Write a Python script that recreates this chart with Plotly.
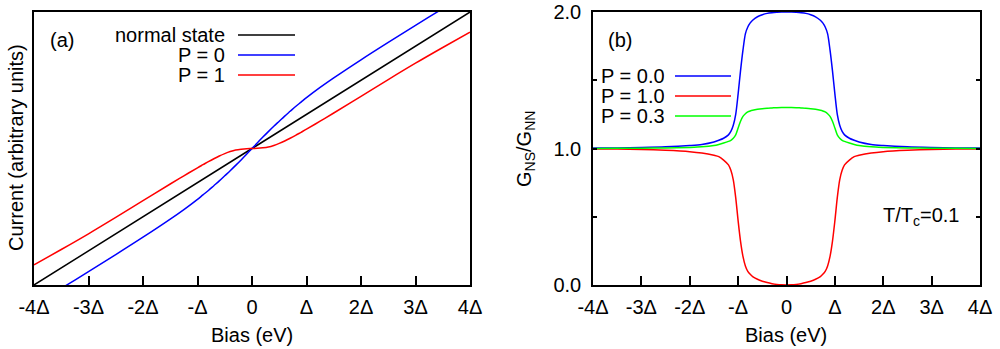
import plotly.graph_objects as go

# ---------------- data ----------------
# panel (a): current vs bias (bias in units of Delta)
bias_a = [-4, -3.5, -3, -2.5, -2, -1.5, -1.25, -1, -0.9, -0.8, -0.7, -0.6, -0.5, -0.4, -0.3, -0.2, -0.1,
          0, 0.1, 0.2, 0.3, 0.4, 0.5, 0.6, 0.7, 0.8, 0.9, 1, 1.25, 1.5, 2, 2.5, 3, 3.5, 4]
current_p0 = [-4.6, -4.1, -3.61, -3.11, -2.6, -2.07, -1.79, -1.49, -1.36, -1.23, -1.09, -0.95, -0.8, -0.65, -0.495, -0.335, -0.17,
              0, 0.17, 0.335, 0.495, 0.65, 0.8, 0.95, 1.09, 1.23, 1.36, 1.49, 1.79, 2.07, 2.6, 3.11, 3.61, 4.1, 4.6]
current_p1 = [-3.41, -2.96, -2.5, -2.02, -1.53, -1.04, -0.8, -0.565, -0.475, -0.385, -0.3, -0.22, -0.15, -0.09, -0.045, -0.02, -0.004,
              0, 0.004, 0.02, 0.045, 0.09, 0.15, 0.22, 0.3, 0.385, 0.475, 0.565, 0.8, 1.04, 1.53, 2.02, 2.5, 2.96, 3.41]
bias_normal = [-4, 0, 4]
current_normal = [-4, 0, 4]

# panel (b): normalised conductance vs bias
bias_b = [-4, -3.5, -3, -2.5, -2, -1.75, -1.5, -1.4, -1.3, -1.2, -1.15, -1.1, -1.05, -1.0, -0.95, -0.9, -0.85,
          -0.8, -0.75, -0.7, -0.6, -0.5, -0.4, -0.3, -0.2, -0.1,
          0, 0.1, 0.2, 0.3, 0.4, 0.5, 0.6, 0.7, 0.75, 0.8, 0.85, 0.9, 0.95, 1.0, 1.05, 1.1, 1.15, 1.2,
          1.3, 1.4, 1.5, 1.75, 2, 2.5, 3, 3.5, 4]
g_p00 = [1.003, 1.004, 1.007, 1.012, 1.022, 1.03, 1.048, 1.06, 1.075, 1.1, 1.125, 1.17, 1.25, 1.40, 1.57, 1.72, 1.84,
         1.89, 1.92, 1.94, 1.965, 1.98, 1.99, 1.995, 1.998, 2.0,
         2.0, 2.0, 1.998, 1.995, 1.99, 1.98, 1.965, 1.94, 1.92, 1.89, 1.84, 1.72, 1.57, 1.40, 1.25, 1.17, 1.125, 1.1,
         1.075, 1.06, 1.048, 1.03, 1.022, 1.012, 1.007, 1.004, 1.003]
g_p10 = [0.997, 0.996, 0.993, 0.987, 0.977, 0.967, 0.95, 0.94, 0.915, 0.88, 0.84, 0.77, 0.64, 0.47, 0.32, 0.21, 0.14,
         0.10, 0.078, 0.062, 0.042, 0.028, 0.018, 0.01, 0.004, 0.001,
         0.0, 0.001, 0.004, 0.01, 0.018, 0.028, 0.042, 0.062, 0.078, 0.10, 0.14, 0.21, 0.32, 0.47, 0.64, 0.77, 0.84, 0.88,
         0.915, 0.94, 0.95, 0.967, 0.977, 0.987, 0.993, 0.996, 0.997]
g_p03 = [1.0, 1.001, 1.002, 1.004, 1.008, 1.012, 1.022, 1.03, 1.04, 1.052, 1.06, 1.075, 1.10, 1.15, 1.20, 1.235, 1.255,
         1.268, 1.275, 1.28, 1.287, 1.292, 1.295, 1.297, 1.299, 1.30,
         1.30, 1.30, 1.299, 1.297, 1.295, 1.292, 1.287, 1.28, 1.275, 1.268, 1.255, 1.235, 1.20, 1.15, 1.10, 1.075, 1.06, 1.052,
         1.04, 1.03, 1.022, 1.012, 1.008, 1.004, 1.002, 1.001, 1.0]

x_tickvals = [-4, -3, -2, -1, 0, 1, 2, 3, 4]
x_ticktext = ["-4Δ", "-3Δ", "-2Δ", "-Δ", "0", "Δ", "2Δ", "3Δ", "4Δ"]
y_tickvals_b = [0, 1.0, 2.0]
y_ticktext_b = ["0.0", "1.0", "2.0"]
y_minor_b = [0.5, 1.5]

legend_a = ["normal state", "P = 0", "P = 1"]
legend_b = ["P = 0.0", "P = 1.0", "P = 0.3"]

BLACK, BLUE, RED, GREEN = "#000000", "#0000ff", "#ff0000", "#00ff00"
FONT = "Liberation Sans, Arial, sans-serif"
W, H = 1000, 349
LW = 1.5

def px(x):
    return x / W

def py(y):
    return (H - y) / H

fig = go.Figure()

# panel (a)
for xs, ys, c, n in [(bias_normal, current_normal, BLACK, legend_a[0]),
                     (bias_a, current_p0, BLUE, legend_a[1]),
                     (bias_a, current_p1, RED, legend_a[2])]:
    fig.add_trace(go.Scatter(x=xs, y=ys, mode="lines", name=n, xaxis="x", yaxis="y",
                             line=dict(color=c, width=LW, shape="spline", smoothing=1.0)))

# panel (b)
for ys, c, n in [(g_p00, BLUE, legend_b[0]), (g_p10, RED, legend_b[1]), (g_p03, GREEN, legend_b[2])]:
    fig.add_trace(go.Scatter(x=bias_b, y=ys, mode="lines", name=n, xaxis="x2", yaxis="y2",
                             line=dict(color=c, width=LW, shape="spline", smoothing=0.8)))

ydom = [py(285), py(12)]
axis_common = dict(showgrid=False, zeroline=False, showline=True, linecolor="black", linewidth=1.5,
                   automargin=False, ticklabeloverflow="allow",
                   tickfont=dict(family=FONT, size=20, color="black"))

fig.update_layout(
    width=W, height=H, margin=dict(l=0, r=0, t=0, b=0, autoexpand=False),
    paper_bgcolor="white", plot_bgcolor="white", showlegend=False,
    font=dict(family=FONT, size=20, color="black"),
    xaxis=dict(domain=[px(34), px(470)], range=[-4, 4], tickvals=x_tickvals, ticktext=x_ticktext,
               ticks="inside", ticklen=9, tickwidth=1.5, tickcolor="black", mirror=True,
               ticklabelstandoff=3, anchor="y", **axis_common),
    yaxis=dict(domain=ydom, range=[-4, 4], showticklabels=False, ticks="", mirror=True,
               anchor="x", **axis_common),
    xaxis2=dict(domain=[px(593), px(980)], range=[-4, 4], tickvals=x_tickvals, ticktext=x_ticktext,
                ticks="inside", ticklen=9, tickwidth=1.5, tickcolor="black", mirror=True,
                ticklabelstandoff=3, anchor="y2", **axis_common),
    yaxis2=dict(domain=ydom, range=[0, 2], tickvals=y_tickvals_b, ticktext=y_ticktext_b,
                ticks="inside", ticklen=4, tickwidth=1.5, tickcolor="black", mirror="ticks",
                minor=dict(tickvals=y_minor_b, ticks="inside", ticklen=4, tickwidth=1.5, tickcolor="black"),
                ticklabelstandoff=6, anchor="x2", **axis_common),
)

ann = []
def text(x, y, s, xanchor="center", angle=0, height=None):
    d = dict(x=px(x), y=py(y), xref="paper", yref="paper", text=s, showarrow=False,
             xanchor=xanchor, yanchor="middle", textangle=angle,
             font=dict(family=FONT, size=20, color="black"))
    if height:
        d["height"] = height
    ann.append(d)

# axis titles
text(252, 335, "Bias (eV)")
text(786, 335, "Bias (eV)")
text(16, 148, "Current (arbitrary units)", angle=-90)
text(525, 149, "G<sub>NS</sub>/G<sub>NN</sub>", angle=-90)

# panel labels
text(62, 40, "(a)")
text(620, 40, "(b)")
text(921, 216, "T/T<sub>c</sub>=0.1")

# legends
shapes = []
for i, (lab, c) in enumerate(zip(legend_a, [BLACK, BLUE, RED])):
    yy = 35 + 20 * i
    text(227, yy, lab, xanchor="right", height=18)
    shapes.append(dict(type="line", xref="paper", yref="paper", x0=px(238), x1=px(295),
                       y0=py(yy), y1=py(yy), line=dict(color=c, width=LW)))
for i, (lab, c) in enumerate(zip(legend_b, [BLUE, RED, GREEN])):
    yy = 76 + 20 * i
    text(599, yy, lab, xanchor="left", height=18)
    shapes.append(dict(type="line", xref="paper", yref="paper", x0=px(675), x1=px(731),
                       y0=py(yy), y1=py(yy), line=dict(color=c, width=LW)))

fig.update_layout(annotations=ann, shapes=shapes)
# remove the default 8px page margin so the figure fills the window exactly
fig.write_html("out.html", config={"displayModeBar": False},
               post_script="document.body.style.margin='0px';")
